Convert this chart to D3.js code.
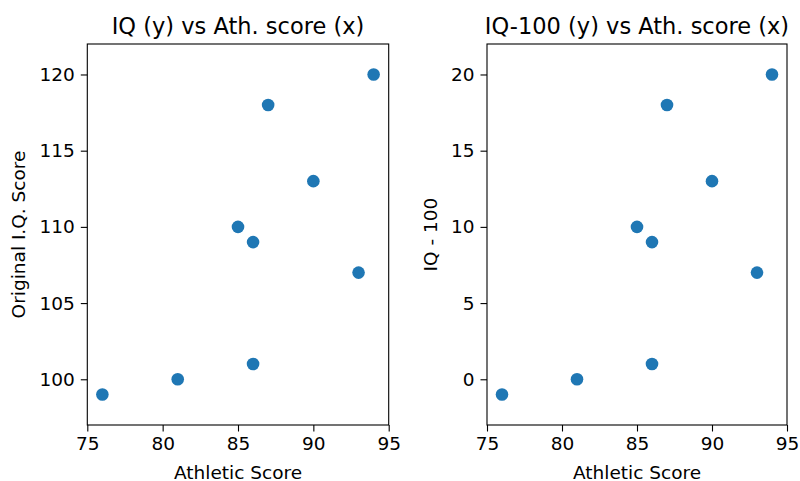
<!DOCTYPE html>
<html><head><meta charset="utf-8">
<script src="https://cdn.jsdelivr.net/npm/d3@7"></script>
<style>
body{margin:0;background:#fff;}
svg{display:block;font-family:"DejaVu Sans",sans-serif;}
</style></head>
<body>
<svg id="chart" width="800" height="481"></svg>
<script>
const athletic = [76, 81, 85, 86, 86, 87, 90, 93, 94];
const iq = [99, 100, 110, 109, 101, 118, 113, 107, 120];
const iqMinus100 = iq.map(v => v - 100);
const xTicks = [75, 80, 85, 90, 95];
const yTicksLeft = [100, 105, 110, 115, 120];
const yTicksRight = [0, 5, 10, 15, 20];
const titles = ["IQ (y) vs Ath. score (x)", "IQ-100 (y) vs Ath. score (x)"];
const yLabels = ["Original I.Q. Score", "IQ - 100"];
const xLabel = "Athletic Score";

(function(){
const svg = d3.select("#chart");
const color = "#1f77b4";
const tickFont = 18.5, titleFont = 22.5;

const panels = [
  {x0: 87.3, x1: 388.7, ys: iq, dom: [97, 122], ticks: yTicksLeft, title: titles[0], ylab: yLabels[0], ylabX: 25},
  {x0: 487, x1: 787, ys: iqMinus100, dom: [-3, 22], ticks: yTicksRight, title: titles[1], ylab: yLabels[1], ylabX: 436.5}
];
const axTop = 44, axBottom = 425;

panels.forEach(p => {
  const g = svg.append("g");
  const x = d3.scaleLinear().domain([75, 95]).range([p.x0, p.x1]);
  const y = d3.scaleLinear().domain(p.dom).range([axBottom, axTop]);

  g.selectAll("circle").data(athletic.map((a, i) => [a, p.ys[i]])).enter()
    .append("circle")
    .attr("cx", d => x(d[0])).attr("cy", d => y(d[1])).attr("r", 6.3)
    .attr("fill", color);

  const xa = g.append("g").attr("transform", `translate(0,${axBottom})`)
    .call(d3.axisBottom(x).tickValues(xTicks).tickSize(6.5).tickPadding(5).tickFormat(d3.format("d")));
  xa.select(".domain").remove();
  xa.selectAll("line").attr("stroke", "#000").attr("stroke-width", 1.1);
  xa.selectAll("text").attr("font-size", tickFont).attr("font-family", "DejaVu Sans").attr("fill", "#000");

  const ya = g.append("g").attr("transform", `translate(${p.x0},0)`)
    .call(d3.axisLeft(y).tickValues(p.ticks).tickSize(6.5).tickPadding(6).tickFormat(d3.format("d")));
  ya.select(".domain").remove();
  ya.selectAll("line").attr("stroke", "#000").attr("stroke-width", 1.1);
  ya.selectAll("text").attr("font-size", tickFont).attr("font-family", "DejaVu Sans").attr("fill", "#000");

  g.append("rect").attr("x", p.x0).attr("y", axTop).attr("width", p.x1 - p.x0).attr("height", axBottom - axTop)
    .attr("fill", "none").attr("stroke", "#000").attr("stroke-width", 1.1);

  g.append("text").attr("x", (p.x0 + p.x1) / 2).attr("y", 34).attr("text-anchor", "middle")
    .attr("font-size", titleFont).attr("fill", "#000").text(p.title);
  g.append("text").attr("x", (p.x0 + p.x1) / 2).attr("y", 478.5).attr("text-anchor", "middle")
    .attr("font-size", tickFont).attr("fill", "#000").text(xLabel);
  g.append("text").attr("transform", `translate(${p.ylabX},${(axTop + axBottom) / 2}) rotate(-90)`)
    .attr("text-anchor", "middle").attr("font-size", tickFont).attr("fill", "#000").text(p.ylab);
});
})();
</script>
</body></html>
